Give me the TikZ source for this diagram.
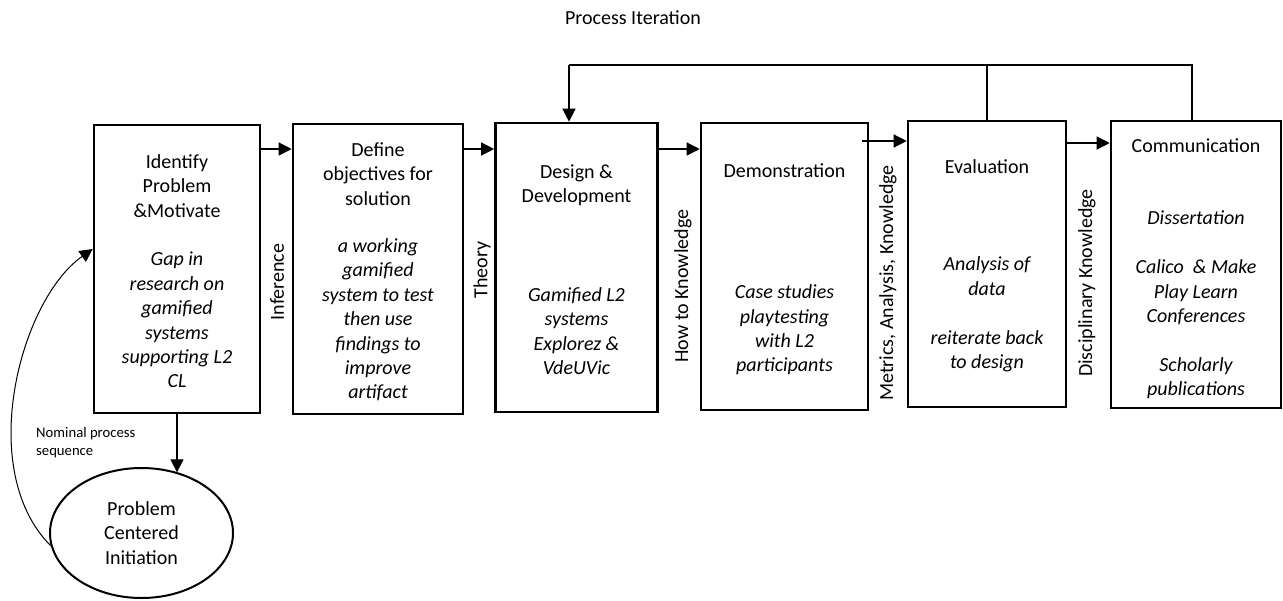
\documentclass[tikz,border=0pt]{standalone}
\usepackage{fontspec}
\setmainfont{Carlito}
\usetikzlibrary{arrows.meta,shapes.geometric,calc}

\tikzset{
  stage/.style={draw, line width=2.6pt, minimum width=#1},
  head/.style={font=\fontsize{20pt}{24.4pt}\selectfont, align=center, inner sep=0pt},
  body/.style={font=\fontsize{20pt}{24.4pt}\selectfont\itshape, align=center, inner sep=0pt},
  side/.style={font=\fontsize{20pt}{24.4pt}\selectfont, rotate=90, inner sep=0pt},
  link/.style={line width=1.3pt, -{Triangle[length=13pt,width=13pt]}},
  loopline/.style={line width=1.3pt},
}

\begin{document}
\begin{tikzpicture}[x=1pt, y=-1pt]
\useasboundingbox (0,0) rectangle (1283,600);

% Title
\node[head] (title) at (633,18) {Process Iteration};

% Stage boxes
\node[stage=166pt, minimum height=288pt] (b1) at (177,269) {};
\node[stage=170pt, minimum height=290pt] (b2) at (378,269) {};
\node[stage=162pt, minimum height=289pt] (b3) at (576.5,267.5) {};
\node[stage=167pt, minimum height=287pt] (b4) at (784.5,266.5) {};
\node[stage=158pt, minimum height=286pt] (b5) at (987,264) {};
\node[stage=170pt, minimum height=287pt] (b6) at (1196,264.5) {};

% Stage headings
\node[head] (h1) at (177,186) {Identify\\Problem\\\&Motivate};
\node[head] (h2) at (378,174) {Define\\objectives for\\solution};
\node[head] (h3) at (576.5,185) {Design \&\\Development};
\node[head] (h4) at (784.5,171) {Demonstration};
\node[head] (h5) at (987,167) {Evaluation};
\node[head] (h6) at (1196,146) {Communication};

% Stage contents
\node[body] (t1) at (177,320) {Gap in\\research on\\gamified\\systems\\supporting L2\\CL};
\node[body] (t2) at (378,320) {a working\\gamified\\system to test\\then use\\findings to\\improve\\artifact};
\node[body] (t3) at (576.5,331) {Gamified L2\\systems\\Explorez \&\\VdeUVic};
\node[body] (t4) at (784.5,330) {Case studies\\playtesting\\with L2\\participants};
\node[body] (t5) at (987,314.5) {Analysis of\\data\\[24.4pt]reiterate back\\to design};
\node[body] (t6) at (1196,305) {Dissertation\\[24.4pt]Calico~ \& Make\\Play Learn\\Conferences\\[24.4pt]Scholarly\\publications};

% Labels between stages
\node[side] (s1) at (277,282) {Inference};
\node[side] (s2) at (482,270) {Theory};
\node[side] (s3) at (683,286) {How to Knowledge};
\node[side] (s4) at (888,283) {Metrics, Analysis, Knowledge};
\node[side] (s5) at (1087,283) {Disciplinary Knowledge};

% Forward links
\draw[link] (b1.east |- 0,149) -- (b2.west |- 0,149);
\draw[link] (b2.east |- 0,149) -- (b3.west |- 0,149);
\draw[link] (b3.east |- 0,149) -- (b4.west |- 0,149);
\draw[link] (862,141) -- (b5.west |- 0,141);
\draw[link] (b5.east |- 0,143) -- (b6.west |- 0,143);

% Iteration loop back to design
\coordinate (tr) at (1192,65);
\coordinate (tl) at (569,65);
\draw[loopline] (b6.north -| tr) -- (tr) -- (tl);
\draw[loopline] (b5.north) -- (b5.north |- tl);
\draw[link] (tl) -- (b3.north -| tl);

% Entry point
\node[draw, ellipse, line width=2pt, minimum width=183pt, minimum height=130pt,
      font=\fontsize{20pt}{24.4pt}\selectfont, align=center, inner sep=0pt] (pci) at (141.5,533)
  {Problem\\Centered\\Initiation};
\draw[link] (b1.south) -- (pci.59 -| b1.south);
\draw[line width=1pt, -{Triangle[length=13pt,width=13pt]}]
  (pci.188) .. controls (-25,470) and (20,300) .. (b1.west |- 0,249);
\node[font=\fontsize{14.7pt}{18pt}\selectfont, align=left, anchor=west, inner sep=0pt]
  (nom) at (36,443) {Nominal process\\sequence};
\end{tikzpicture}
\end{document}
